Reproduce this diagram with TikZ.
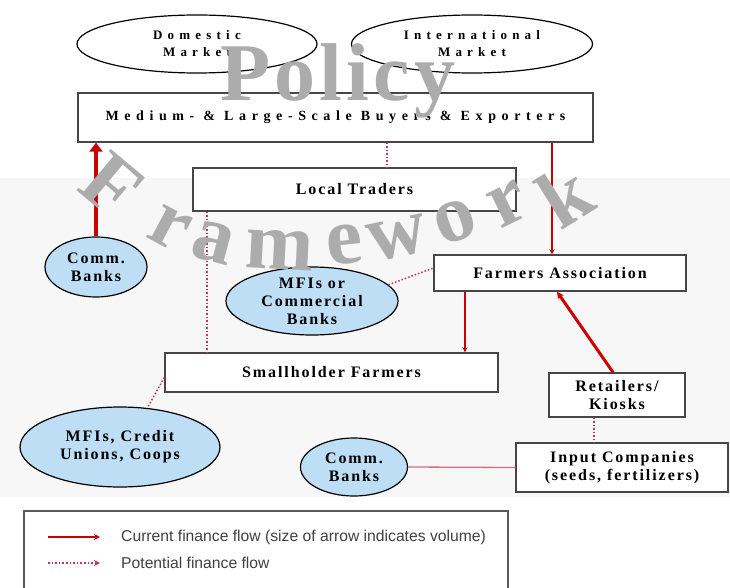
\documentclass[tikz,border=0pt]{standalone}
\usepackage{fontspec}
\setmainfont{Liberation Serif}
\setsansfont{Liberation Sans}
\newfontfamily\wideserif[LetterSpace=40]{Liberation Serif}
\newfontfamily\midserif[LetterSpace=12]{Liberation Serif}
\newfontfamily\wmserif[LetterSpace=5]{Liberation Serif}
\usetikzlibrary{shapes.geometric,arrows.meta}
\definecolor{flowred}{RGB}{204,0,0}
\definecolor{dotred}{RGB}{200,50,90}
\definecolor{wmgray}{RGB}{172,172,172}
\definecolor{ellfill}{RGB}{190,222,245}
\definecolor{boxline}{RGB}{70,70,70}
\definecolor{lightline}{RGB}{215,110,120}
\begin{document}
\begin{tikzpicture}[x=1pt,y=-1pt,
  rbox/.style={draw=boxline, line width=1.4pt, fill=white, rectangle, inner sep=0pt, align=center, font=\midserif\bfseries\fontsize{16}{18}\selectfont},
  wbox/.style={rbox, font=\wideserif\bfseries\fontsize{14}{16}\selectfont},
  mkt/.style={ellipse, draw=black, line width=1.2pt, fill=white, inner sep=0pt, align=center, font=\wideserif\bfseries\fontsize{13}{17}\selectfont},
  fin/.style={ellipse, draw=black, line width=1.2pt, fill=ellfill, inner sep=0pt, align=center, font=\midserif\bfseries\fontsize{16}{18}\selectfont},
  cur/.style={draw=flowred, line width=2pt, -{Stealth[length=5pt,width=5pt]}},
  pot/.style={draw=dotred, line width=1.5pt, dotted},
  wm/.style={text=wmgray, font=\wmserif\bfseries\fontsize{82}{82}\selectfont, inner sep=0pt},
  legtext/.style={anchor=west, inner sep=0pt, text=black!75, font=\sffamily\fontsize{15.7}{18}\selectfont},
]
\useasboundingbox (0,0) rectangle (730,588);
\fill[black!3] (0,178) rectangle (730,497);

% markets
\node[mkt, minimum width=240pt, minimum height=58pt] (dom) at (197,44) {Domestic\\Market};
\node[mkt, minimum width=241pt, minimum height=58pt] (intl) at (472,44) {International\\Market};

% boxes
\node[wbox, minimum width=515pt, minimum height=49pt] (buyers) at (335.5,117.5) {Medium- \& Large-Scale Buyers \& Exporters};
\node[rbox, minimum width=323pt, minimum height=43pt] (traders) at (354.5,189.5) {Local Traders};
\node[rbox, minimum width=252pt, minimum height=36pt] (farmA) at (560,273) {Farmers Association};
\node[rbox, minimum width=333pt, minimum height=39pt] (small) at (331.5,372.5) {Smallholder Farmers};
\node[rbox, minimum width=136pt, minimum height=44pt] (retail) at (617,395) {Retailers/\\Kiosks};
\node[rbox, minimum width=212pt, minimum height=49pt] (input) at (622,467.5) {Input Companies\\(seeds, fertilizers)};

% finance ellipses
\node[fin, minimum width=102pt, minimum height=60pt] (bank1) at (96,267) {Comm.\\Banks};
\node[fin, minimum width=172pt, minimum height=68pt] (mfi1) at (312,301) {MFIs or\\Commercial\\Banks};
\node[fin, minimum width=107pt, minimum height=58pt] (bank2) at (354,467) {Comm.\\Banks};
\node[fin, minimum width=200pt, minimum height=80pt] (mfi2) at (120,447) {MFIs, Credit\\Unions, Coops};

% helper x positions
\coordinate (xa) at (387,0);
\coordinate (xb) at (552,0);
\coordinate (xc) at (207,0);
\coordinate (xd) at (465,0);
\coordinate (xe) at (594,0);
\coordinate (xf) at (613,0);
\coordinate (xg) at (557,0);

% connectors
\draw[draw=flowred, line width=4.5pt, -{Triangle[length=9pt,width=13pt]}] (bank1.north) -- (bank1.north |- buyers.south);
\draw[pot] (buyers.south -| xa) -- (traders.north -| xa);
\draw[cur] (buyers.south -| xb) -- (farmA.north -| xb);
\draw[pot] (traders.south -| xc) -- (small.north -| xc);
\draw[cur] (farmA.south -| xd) -- (small.north -| xd);
\draw[draw=flowred, line width=3pt, -{Stealth[length=7pt,width=7pt]}] (retail.north -| xf) -- (farmA.south -| xg);
\draw[pot] (mfi1.12) -- ([yshift=5pt]farmA.west);
\draw[pot] ([yshift=-5pt]small.west) -- (mfi2.55);
\draw[pot] (retail.south -| xe) -- (input.north -| xe);
\draw[draw=lightline, line width=1.3pt] (bank2.east) -- (input.west);

% legend
\coordinate (lgA) at (24,590);
\coordinate (lgB) at (24,511);
\coordinate (lgC) at (508,511);
\coordinate (lgD) at (508,590);
\fill[white] (lgA) rectangle (lgC);
\draw[draw=black!65, line width=1.4pt] (lgA) -- (lgB) -- (lgC) -- (lgD);
\coordinate (l1s) at (48,537);
\coordinate (l1e) at (100,537);
\coordinate (l2s) at (48,563);
\coordinate (l2e) at (100,563);
\draw[draw=flowred, line width=1.6pt, -{Stealth[length=6pt,width=6pt]}] (l1s) -- (l1e);
\draw[draw=dotred, line width=1.6pt, dotted, -{Stealth[length=6pt,width=6pt]}] (l2s) -- (l2e);
\node[legtext] (lt1) at (121,537) {Current finance flow (size of arrow indicates volume)};
\node[legtext] (lt2) at (121,563) {Potential finance flow};

% watermark
\node[wm, anchor=base] (wmP) at (338,101) {Policy};
\node[wm, rotate=-40] (f1) at (112,185) {F};
\node[wm, rotate=-28] (f2) at (170,228) {r};
\node[wm, rotate=-15] (f3) at (213,243) {a};
\node[wm, rotate=-3] (f4) at (280,250) {m};
\node[wm, rotate=6] (f5) at (345,245) {e};
\node[wm, rotate=12] (f6) at (398,238) {w};
\node[wm, rotate=20] (f7) at (455,222) {o};
\node[wm, rotate=26] (f8) at (508,204) {r};
\node[wm, rotate=32] (f9) at (565,195) {k};
\end{tikzpicture}
\end{document}
